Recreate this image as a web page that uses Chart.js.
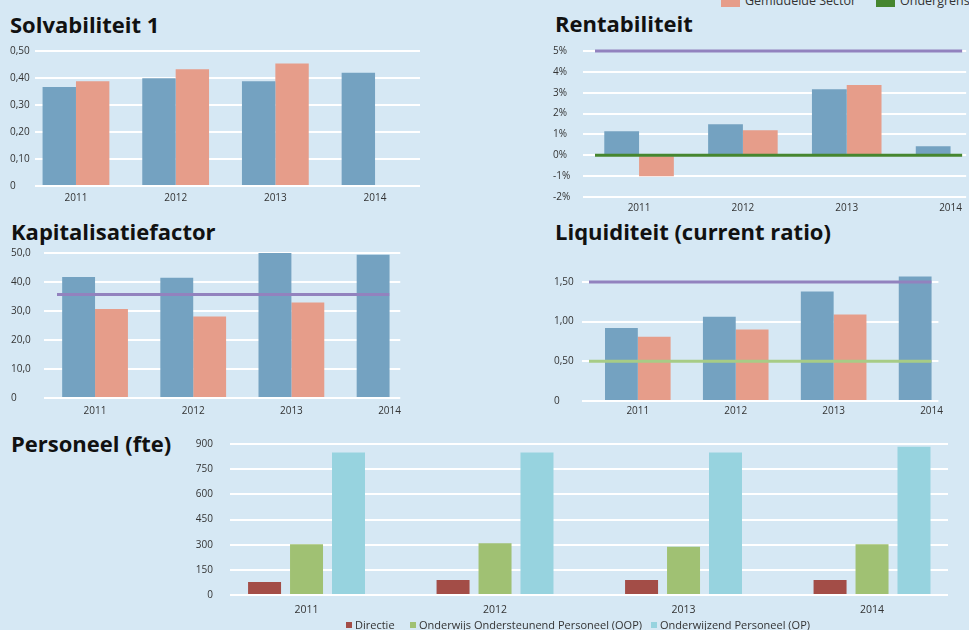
<!DOCTYPE html>
<html>
<head>
<meta charset="utf-8">
<script src="https://cdn.jsdelivr.net/npm/chart.js@4.4.0/dist/chart.umd.min.js"></script>
<style>
html, body { margin: 0; padding: 0; background: #d6e8f4; }
body { width: 969px; height: 630px; overflow: hidden; position: relative; font-family: "Open Sans", sans-serif; }
.title { position: absolute; font-weight: 700; font-size: 22px; line-height: 22px; color: #111; white-space: nowrap; }
.box { position: absolute; }
.leg { position: absolute; white-space: nowrap; color: #333; }
.sw { position: absolute; }
</style>
</head>
<body>

<div class="title" style="left:10px;top:13px">Solvabiliteit 1</div>
<div class="title" style="left:555px;top:12px">Rentabiliteit</div>
<div class="title" style="left:11px;top:220px">Kapitalisatiefactor</div>
<div class="title" style="left:555px;top:220px">Liquiditeit (current ratio)</div>
<div class="title" style="left:11px;top:432px">Personeel (fte)</div>

<div class="box" style="left:10px;top:43px"><canvas id="solv" width="410" height="163"></canvas></div>
<div class="box" style="left:553px;top:43px"><canvas id="rent" width="414" height="174"></canvas></div>
<div class="box" style="left:11px;top:245px"><canvas id="kap" width="397" height="173"></canvas></div>
<div class="box" style="left:554px;top:266px"><canvas id="liq" width="393" height="155"></canvas></div>
<div class="box" style="left:190px;top:421px"><canvas id="pers" width="758" height="198"></canvas></div>

<script>
// data
const years = ['2011', '2012', '2013', '2014'];

const solvEigen = [0.367, 0.399, 0.388, 0.419];
const solvSector = [0.388, 0.432, 0.454, null];

const rentEigen = [1.15, 1.49, 3.17, 0.43];
const rentSector = [-1.0, 1.2, 3.37, null];
const rentBoven = 5;
const rentOnder = 0;

const kapEigen = [41.7, 41.5, 50.0, 49.4];
const kapSector = [30.7, 28.1, 32.9, null];
const kapBoven = 35.7;

const liqEigen = [0.92, 1.06, 1.38, 1.57];
const liqSector = [0.81, 0.90, 1.09, null];
const liqBoven = 1.5;
const liqOnder = 0.5;
const liqTicks = [0, 0.5, 1, 1.5];

const persNames = ['Directie', 'Onderwijs Ondersteunend Personeel (OOP)', 'Onderwijzend Personeel (OP)'];
const persDirectie = [78, 90, 90, 90];
const persOOP = [303, 309, 287, 303];
const persOP = [849, 849, 849, 884];

const BLUE = '#74a2c1';
const PINK = '#e69d8a';
const PURPLE = '#9282be';
const GREEN = '#46862f';
const LIGHTGREEN = '#a7cc86';
const persColors = ['#a34d47', '#a0c173', '#97d3df'];

Chart.defaults.font.family = '"Open Sans", sans-serif';
Chart.defaults.color = '#333';

// horizontal norm lines
const refLines = {
  id: 'refLines',
  afterDatasetsDraw(chart, args, opts) {
    if (!opts.lines) return;
    const ctx = chart.ctx;
    const a = chart.chartArea;
    const y = chart.scales.y;
    opts.lines.forEach(l => {
      const py = y.getPixelForValue(l.value);
      ctx.save();
      ctx.strokeStyle = l.color;
      ctx.lineWidth = 3;
      ctx.beginPath();
      ctx.moveTo(a.left + opts.inset[0], py);
      ctx.lineTo(a.right - opts.inset[1], py);
      ctx.stroke();
      ctx.restore();
    });
  }
};
Chart.register(refLines);

function pts(arr) {
  return years.map((y, i) => ({ x: +y, y: arr[i] }));
}

function xAxis(min, max, pad, h, size) {
  return {
    type: 'linear', min: min, max: max, offset: false,
    grid: { display: false, drawTicks: false },
    border: { display: false },
    afterBuildTicks: s => { s.ticks = years.map(y => ({ value: +y })); },
    afterFit: s => { s.height = h; },
    ticks: { callback: v => String(v), font: { size: size || 10 }, padding: pad, maxRotation: 0, autoSkip: false }
  };
}

function yAxis(min, max, step, width, fmt, extra) {
  const ax = {
    min: min, max: max,
    grid: { color: '#ffffff', lineWidth: 2, drawTicks: false },
    border: { display: false },
    afterFit: s => { s.width = width; },
    ticks: { stepSize: step, callback: fmt, font: { size: 10 }, crossAlign: 'far', padding: 0 }
  };
  return Object.assign(ax, extra || {});
}

function comma(d) {
  return v => v === 0 ? '0' : v.toFixed(d).replace('.', ',');
}

function pairChart(id, eigen, sector, xs, ys, lines) {
  new Chart(document.getElementById(id), {
    type: 'bar',
    data: {
      datasets: [
        { label: 'Instelling', data: pts(eigen), backgroundColor: BLUE, barPercentage: 1, categoryPercentage: 0.67 },
        { label: 'Gemiddelde Sector', data: pts(sector), backgroundColor: PINK, barPercentage: 1, categoryPercentage: 0.67 }
      ]
    },
    options: {
      responsive: false,
      animation: false,
      devicePixelRatio: 1,
      layout: { padding: { top: 8, left: 0, right: 0, bottom: 0 } },
      plugins: { legend: { display: false }, tooltip: { enabled: false }, refLines: lines || {} },
      scales: { x: xs, y: ys }
    }
  });
}

pairChart('solv', solvEigen, solvSector,
  xAxis(2010.589, 2014.451, 6, 20),
  yAxis(0, 0.5, 0.1, 25, comma(2)));

pairChart('rent', rentEigen, rentSector,
  xAxis(2010.46, 2014.15, 5, 20),
  yAxis(-2, 5, 1, 30, v => v + '%'),
  { lines: [{ value: rentBoven, color: PURPLE }, { value: rentOnder, color: GREEN }], inset: [12, 4] });

pairChart('kap', kapEigen, kapSector,
  xAxis(2010.48, 2014.109, 7, 20),
  yAxis(0, 50, 10, 33, comma(1)),
  { lines: [{ value: kapBoven, color: PURPLE }], inset: [13, 11] });

pairChart('liq', liqEigen, liqSector,
  xAxis(2010.43, 2014.07, 4, 20),
  yAxis(0, 1.6, 0.5, 28, comma(2), { afterBuildTicks: s => { s.ticks = liqTicks.map(v => ({ value: v })); } }),
  { lines: [{ value: liqBoven, color: PURPLE }, { value: liqOnder, color: LIGHTGREEN }], inset: [7, 7] });

// personeel
const persData = [persDirectie, persOOP, persOP];
const persY = yAxis(0, 900, 150, 40, v => String(v));
persY.ticks.crossAlign = 'near';
persY.ticks.padding = 17;
new Chart(document.getElementById('pers'), {
  type: 'bar',
  data: {
    datasets: persNames.map((n, i) => ({
      label: n, data: pts(persData[i]), backgroundColor: persColors[i],
      barPercentage: 0.786, categoryPercentage: 0.668
    }))
  },
  options: {
    responsive: false,
    animation: false,
    devicePixelRatio: 1,
    layout: { padding: { top: 23, left: 0, right: 0, bottom: 0 } },
    plugins: { legend: { display: false }, tooltip: { enabled: false } },
    scales: { x: xAxis(2010.594, 2014.403, 9, 24, 10.5), y: persY }
  }
});

// legends (html)
const bottomX = [346, 410, 651];
persNames.forEach((n, i) => {
  const sw = document.createElement('div');
  sw.className = 'sw';
  sw.style.cssText = 'left:' + bottomX[i] + 'px;top:622px;width:6px;height:6px;background:' + persColors[i];
  document.body.appendChild(sw);
  const t = document.createElement('div');
  t.className = 'leg';
  t.style.cssText = 'left:' + (bottomX[i] + 9) + 'px;top:618px;font-size:11px;line-height:14px';
  t.textContent = n;
  document.body.appendChild(t);
});

const topNames = ['Gemiddelde Sector', 'Ondergrens'];
const topColors = [PINK, GREEN];
const topX = [721, 876];
topNames.forEach((n, i) => {
  const sw = document.createElement('div');
  sw.className = 'sw';
  sw.style.cssText = 'left:' + topX[i] + 'px;top:-5px;width:19px;height:12px;background:' + topColors[i];
  document.body.appendChild(sw);
  const t = document.createElement('div');
  t.className = 'leg';
  t.style.cssText = 'left:' + (topX[i] + 24) + 'px;top:-7px;font-size:12.5px;line-height:16px';
  t.textContent = n;
  document.body.appendChild(t);
});
</script>
</body>
</html>
